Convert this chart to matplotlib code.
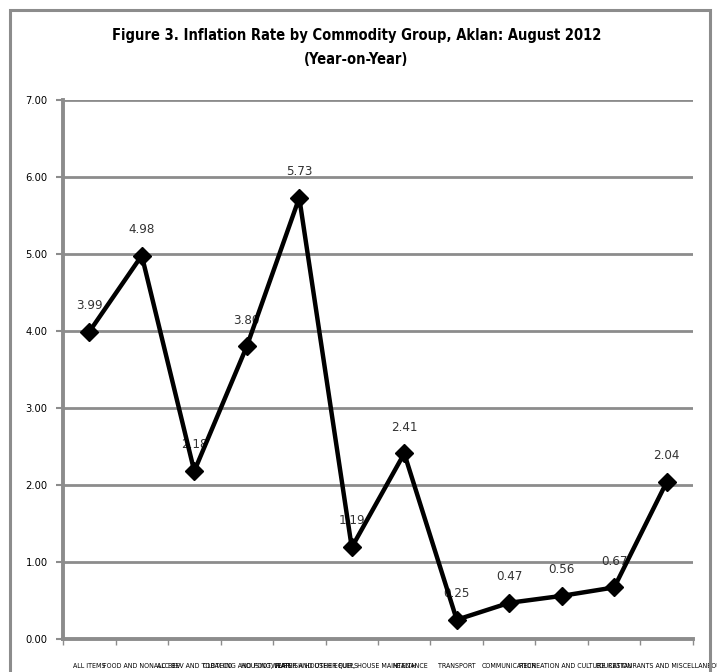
import numpy as np
import matplotlib.pyplot as plt
from matplotlib.patches import Rectangle

groups = ['ALL ITEMS', 'FOOD AND NONALC BEV', 'ALC BEV AND TOBACCO',
          'CLOTHING AND FOOTWEAR', 'HOUSING, WATER AND OTHER FUELS',
          'FURNISH HOUSEH EQUIP, HOUSE MAINTENANCE', 'HEALTH', 'TRANSPORT',
          'COMMUNICATION', 'RECREATION AND CULTURE', 'EDUCATION',
          'RESTAURANTS AND MISCELLANEOUS']
rates = [3.99, 4.98, 2.18, 3.80, 5.73, 1.19, 2.41, 0.25, 0.47, 0.56, 0.67, 2.04]
yticks = [0, 1, 2, 3, 4, 5, 6, 7]

plt.rcParams['font.family'] = ['DejaVu Sans']
plt.rcParams['font.stretch'] = 'condensed'
grey = '#8c8c8c'

fig = plt.figure(figsize=(7.17, 6.72), dpi=100)
ax = fig.add_axes([0.0879, 0.0491, 0.8786, 0.8021])

x = np.arange(len(groups))
ax.plot(x, rates, color='black', lw=3.2, marker='D', ms=9, zorder=3)
for xi, v in zip(x, rates):
    ax.annotate('%.2f' % v, (xi, v), xytext=(0, 19), textcoords='offset points',
                ha='center', va='center', fontsize=9.5, color='#333333', zorder=2)

ax.set_xlim(-0.5, len(groups) - 0.5)
ax.set_ylim(0, 7)
ax.set_yticks(yticks)
ax.set_yticklabels(['%.2f' % t for t in yticks], fontsize=8)
ax.set_xticks(x)
ax.set_xticklabels(groups, fontsize=5)
ax.set_xticks(np.arange(len(groups) + 1) - 0.5, minor=True)
ax.tick_params(axis='x', which='major', length=0, pad=17)
ax.tick_params(axis='x', which='minor', length=4, color=grey, width=1)
ax.tick_params(axis='y', length=5, color=grey, width=1.5, pad=6)
ax.grid(axis='y', color=grey, lw=2, zorder=0)
ax.set_axisbelow(True)
for s in ['top', 'right']:
    ax.spines[s].set_visible(False)
for s in ['left', 'bottom']:
    ax.spines[s].set_color(grey)
    ax.spines[s].set_linewidth(2.8)

fig.text(0.497, 0.947, 'Figure 3. Inflation Rate by Commodity Group, Aklan: August 2012',
         ha='center', va='center', fontsize=10.5, fontweight='bold')
fig.text(0.497, 0.912, '(Year-on-Year)', ha='center', va='center',
         fontsize=10.5, fontweight='bold')

# outer frame around the whole chart
fig.patches.append(Rectangle((0.0146, -0.05), 0.9756, 1.035, transform=fig.transFigure,
                             fill=False, edgecolor=grey, lw=2.2))

fig.savefig('out.png', dpi=100)
